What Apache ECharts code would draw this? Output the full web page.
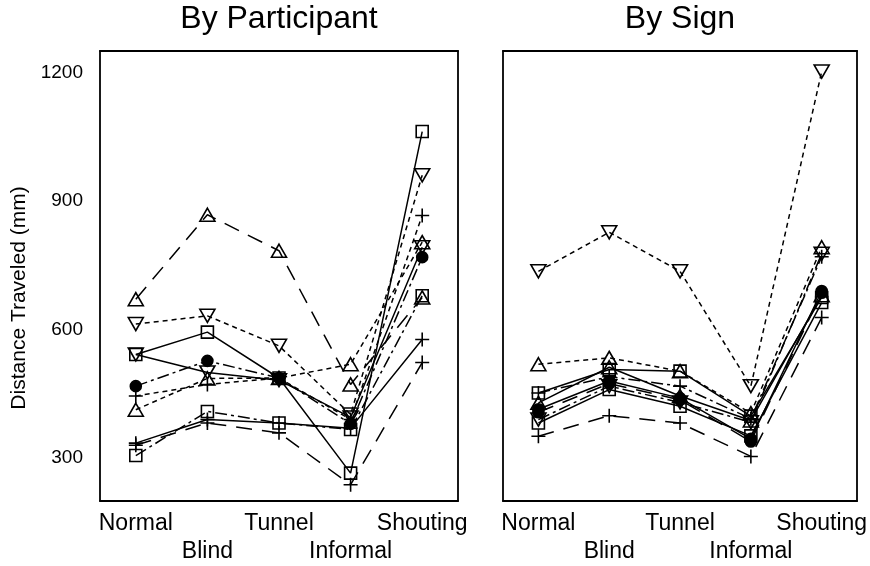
<!DOCTYPE html>
<html>
<head>
<meta charset="utf-8">
<script src="https://cdn.jsdelivr.net/npm/echarts@6/dist/echarts.min.js"></script>
<style>
  html, body { margin: 0; padding: 0; background: #fff; }
  #chart { width: 870px; height: 566px; }
</style>
</head>
<body>
<div id="chart"></div>
<script>
// Conditions along the x axis of both panels
const categories = ['Normal', 'Blind', 'Tunnel', 'Informal', 'Shouting'];
// Labelled y ticks (mm)
const yTickLabels = [300, 600, 900, 1200];

// Left panel: one line per participant (mm)
const participant1  = [671, 868, 784, 472, 675];
const participant2  = [613, 632, 562, 402, 960];
const participant3  = [542, 594, 487, 265, 1062];
const participant4  = [542, 500, 482, 395, 792];
const participant5  = [306, 409, 382, 367, 679];
const participant6  = [468, 527, 487, 380, 769];
const participant7  = [445, 472, 487, 390, 866];
const participant8  = [413, 486, 487, 519, 804];
const participant9  = [335, 390, 382, 370, 577];
const participant10 = [330, 382, 359, 238, 523];

// Right panel: one line per sign (mm)
const sign1  = [736, 827, 736, 468, 1202];
const sign2  = [519, 534, 503, 405, 792];
const sign3  = [452, 507, 503, 398, 675];
const sign4  = [452, 490, 468, 392, 770];
const sign5  = [429, 512, 445, 388, 680];
const sign6  = [414, 480, 440, 345, 690];
const sign7  = [407, 474, 436, 339, 686];
const sign8  = [390, 468, 430, 384, 777];
const sign9  = [382, 460, 421, 352, 663];
const sign10 = [351, 399, 382, 304, 628];

// ---- styling ----
const FONT = 'Liberation Sans, Arial, sans-serif';
const PLUS = 'path://M5,0 L5,10 M0,5 L10,5';
const DOWN = 'path://M0,0 L10,0 L5,8.7 Z';
const markers = {
  up:     { symbol: 'triangle', symbolSize: [15, 13], fill: false },
  down:   { symbol: DOWN, symbolSize: [15, 13], fill: false },
  square: { symbol: 'rect', symbolSize: 12, fill: false },
  dot:    { symbol: 'circle', symbolSize: 11, fill: true },
  plus:   { symbol: PLUS, symbolSize: 14, fill: false }
};
const dashes = {
  solid: 'solid',
  dashed: [16, 10],
  dotted: [5, 4],
  dashdot: [12, 4, 3, 4]
};

const leftLines = [
  [participant1, 'up', 'dashed'],
  [participant2, 'down', 'dotted'],
  [participant3, 'square', 'solid'],
  [participant4, 'down', 'solid'],
  [participant5, 'square', 'dashdot'],
  [participant6, 'dot', 'dashdot'],
  [participant7, 'plus', 'dotted'],
  [participant8, 'up', 'dotted'],
  [participant9, 'plus', 'solid'],
  [participant10, 'plus', 'dashed']
];
const rightLines = [
  [sign1, 'down', 'dotted'],
  [sign2, 'up', 'dotted'],
  [sign3, 'square', 'solid'],
  [sign4, 'plus', 'dashdot'],
  [sign5, 'up', 'solid'],
  [sign6, 'dot', 'solid'],
  [sign7, 'dot', 'dashed'],
  [sign8, 'down', 'dashdot'],
  [sign9, 'square', 'solid'],
  [sign10, 'plus', 'dashed']
];

function makeSeries(lines, axisIndex) {
  return lines.map(([values, mk, dash]) => {
    const m = markers[mk];
    return {
      type: 'line',
      xAxisIndex: axisIndex * 2,
      yAxisIndex: axisIndex * 2,
      data: values,
      symbol: m.symbol,
      symbolSize: m.symbolSize,
      showAllSymbol: true,
      lineStyle: { color: '#000', width: 1.5, type: dashes[dash] },
      itemStyle: {
        color: m.fill ? '#000' : 'rgba(0,0,0,0)',
        borderColor: '#000',
        borderWidth: 1.6
      },
      emphasis: { disabled: true },
      animation: false,
      silent: true
    };
  });
}

const grids = [
  { left: 100, top: 51, width: 358, height: 450 },
  { left: 503, top: 51, width: 355, height: 450 }
];

const axisLine = { show: true, lineStyle: { color: '#000', width: 1.8 } };
const tickStyle = { color: '#000', width: 1.2 };

const xAxes = [];
const yAxes = [];
grids.forEach((g, i) => {
  xAxes.push({
    type: 'category', gridIndex: i, data: categories, position: 'bottom',
    boundaryGap: true,
    axisLine, axisTick: { inside: true, alignWithLabel: true, length: 5, lineStyle: tickStyle },
    axisLabel: {
      color: '#000', fontFamily: FONT, fontSize: 23, margin: 9, lineHeight: 28,
      interval: 0,
      formatter: (v, idx) => (idx % 2 ? '\n' + v : v)
    },
    splitLine: { show: false }
  });
  xAxes.push({
    type: 'category', gridIndex: i, data: categories, position: 'top',
    boundaryGap: true,
    axisLine, axisTick: { inside: true, alignWithLabel: true, length: 5, lineStyle: tickStyle },
    axisLabel: { show: false }, splitLine: { show: false }
  });
  yAxes.push({
    type: 'value', gridIndex: i, min: 200, max: 1250, interval: 100, position: 'left',
    axisLine, axisTick: { inside: true, length: 5, lineStyle: tickStyle },
    axisLabel: {
      show: i === 0, color: '#000', fontFamily: FONT, fontSize: 19, margin: 17,
      formatter: v => (yTickLabels.includes(v) ? String(v) : '')
    },
    splitLine: { show: false }
  });
  yAxes.push({
    type: 'value', gridIndex: i, min: 200, max: 1250, interval: 100, position: 'right',
    axisLine, axisTick: { inside: true, length: 5, lineStyle: tickStyle },
    axisLabel: { show: false }, splitLine: { show: false }
  });
});

const chart = echarts.init(document.getElementById('chart'), null, { renderer: 'canvas' });
chart.setOption({
  backgroundColor: '#fff',
  animation: false,
  grid: grids,
  xAxis: xAxes,
  yAxis: yAxes,
  graphic: [
    { type: 'text', x: 279, y: 19, style: { text: 'By Participant', fill: '#000', font: '32px ' + FONT, textAlign: 'center', textVerticalAlign: 'middle' } },
    { type: 'text', x: 680, y: 19, style: { text: 'By Sign', fill: '#000', font: '32px ' + FONT, textAlign: 'center', textVerticalAlign: 'middle' } },
    { type: 'text', x: 19, y: 298, rotation: Math.PI / 2, style: { text: 'Distance Traveled (mm)', fill: '#000', font: '21px ' + FONT, textAlign: 'center', textVerticalAlign: 'middle' } }
  ],
  series: makeSeries(leftLines, 0).concat(makeSeries(rightLines, 1))
});
</script>
</body>
</html>
